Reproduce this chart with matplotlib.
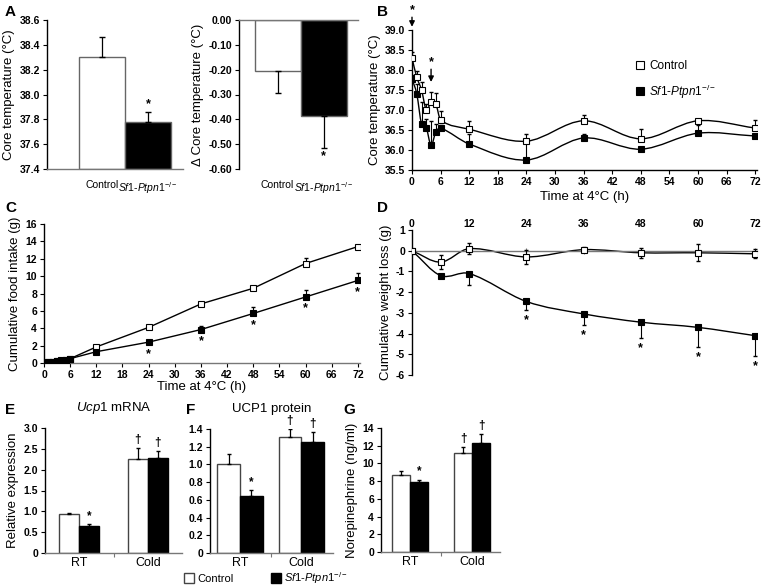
import numpy as np
import matplotlib
matplotlib.use("Agg")
import matplotlib.pyplot as plt
from matplotlib.path import Path
from matplotlib.patches import PathPatch, Patch
from matplotlib.lines import Line2D

plt.rcParams["font.family"] = ["Liberation Sans", "DejaVu Sans"]
plt.rcParams["mathtext.fontset"] = "custom"
plt.rcParams["mathtext.rm"] = "Liberation Sans"
plt.rcParams["mathtext.it"] = "Liberation Sans:italic"
plt.rcParams["axes.unicode_minus"] = False
plt.rcParams["axes.linewidth"] = 1.0

KO = r"$\mathit{Sf1}$-$\mathit{Ptpn1}^{-/-}$"

# ---- data ----
# A: core temperature at RT
a_groups = ["Control", KO]
a_temp = [38.30, 37.78]
a_temp_err = [0.16, 0.08]
a_delta = [-0.205, -0.385]
a_delta_err = [0.09, 0.13]

# B: core temperature during cold exposure
b_time = [0, 1, 2, 3, 4, 5, 6, 12, 24, 36, 48, 60, 72]
b_ctrl = [38.30, 37.82, 37.50, 37.00, 37.20, 37.15, 36.75, 36.52, 36.22, 36.73, 36.28, 36.73, 36.55]
b_ctrl_err = [0.15, 0.15, 0.20, 0.15, 0.25, 0.28, 0.22, 0.20, 0.17, 0.15, 0.25, 0.03, 0.20]
b_ko = [37.78, 37.40, 36.65, 36.55, 36.12, 36.45, 36.55, 36.15, 35.75, 36.30, 36.02, 36.42, 36.35]
b_ko_err = [0.10, 0.25, 0.55, 0.22, 0.60, 0.20, 0.08, 0.25, 0.45, 0.10, 0.03, 0.20, 0.05]
b_sig_time = [0, 4]

# C: cumulative food intake
c_time = [0, 1, 2, 3, 4, 5, 6, 12, 24, 36, 48, 60, 72]
c_ctrl = [0.05, 0.10, 0.15, 0.20, 0.25, 0.40, 0.50, 1.85, 4.10, 6.80, 8.60, 11.45, 13.40]
c_ctrl_err = [0, 0, 0, 0, 0, 0, 0, 0.15, 0.15, 0.15, 0.30, 0.60, 0.20]
c_ko = [0.05, 0.10, 0.15, 0.20, 0.30, 0.40, 0.50, 1.30, 2.40, 3.85, 5.70, 7.60, 9.50]
c_ko_err = [0, 0, 0, 0, 0, 0, 0, 0.20, 0.25, 0.45, 0.80, 0.80, 0.90]
c_sig_time = [24, 36, 48, 60, 72]

# D: cumulative weight loss
d_time = [0, 6, 12, 24, 36, 48, 60, 72]
d_ctrl = [0.0, -0.55, 0.10, -0.30, 0.05, -0.10, -0.10, -0.15]
d_ctrl_err = [0.0, 0.35, 0.25, 0.32, 0.12, 0.25, 0.42, 0.22]
d_ko = [0.0, -1.20, -1.10, -2.45, -3.05, -3.45, -3.70, -4.10]
d_ko_err = [0.0, 0.0, 0.55, 0.40, 0.55, 0.75, 0.95, 1.00]
d_sig_time = [24, 36, 48, 60, 72]

# E-G: BAT / plasma measures, RT vs Cold
conds = ["RT", "Cold"]
e_ctrl = [0.93, 2.26]
e_ctrl_err = [0.03, 0.26]
e_ko = [0.64, 2.29]
e_ko_err = [0.05, 0.16]
f_ctrl = [1.01, 1.31]
f_ctrl_err = [0.11, 0.09]
f_ko = [0.64, 1.25]
f_ko_err = [0.07, 0.12]
g_ctrl = [8.75, 11.15]
g_ctrl_err = [0.35, 0.65]
g_ko = [7.95, 12.30]
g_ko_err = [0.22, 1.05]

W, H = 764, 586
fig = plt.figure(figsize=(W / 100, H / 100), dpi=100)


def rect(x0, y0, x1, y1):
    return [x0 / W, 1 - y1 / H, (x1 - x0) / W, (y1 - y0) / H]


def smooth_path(x, y):
    # Excel-like smoothed line: cubic Hermite through the points
    x = np.asarray(x, float)
    y = np.asarray(y, float)
    n = len(x)
    m = np.zeros(n)
    m[0] = (y[1] - y[0]) / (x[1] - x[0])
    m[-1] = (y[-1] - y[-2]) / (x[-1] - x[-2])
    for i in range(1, n - 1):
        m[i] = (y[i + 1] - y[i - 1]) / (x[i + 1] - x[i - 1])
    verts = [(x[0], y[0])]
    codes = [Path.MOVETO]
    for i in range(n - 1):
        h = x[i + 1] - x[i]
        verts += [(x[i] + h / 3, y[i] + m[i] * h / 3),
                  (x[i + 1] - h / 3, y[i + 1] - m[i + 1] * h / 3),
                  (x[i + 1], y[i + 1])]
        codes += [Path.CURVE4] * 3
    return Path(verts, codes)


def style_axes(ax):
    ax.spines["top"].set_visible(False)
    ax.spines["right"].set_visible(False)
    ax.tick_params(length=3, width=0.8, pad=2)


TICK = dict(fontsize=7.5, fontweight="bold")
LAB = 9.5


def yticks(ax, vals, fmt):
    ax.set_yticks(vals)
    ax.set_yticklabels([fmt(v) for v in vals], **TICK)


def xticks(ax, vals):
    ax.set_xticks(vals)
    ax.set_xticklabels([str(v) for v in vals], **TICK)


# ---- Panel A (left) ----
ax = fig.add_axes(rect(47, 20, 183, 169))
xa = np.arange(len(a_groups))
ax.bar(xa, np.array(a_temp) - 37.4, width=1.0, bottom=37.4, color=["white", "black"],
       edgecolor="#666666", linewidth=1.0, zorder=2)
ax.errorbar(xa, a_temp, yerr=[[0, 0], a_temp_err], fmt="none", ecolor="black",
            elinewidth=0.9, capsize=2, zorder=3)
ax.annotate("*", xy=(xa[1], a_temp[1] + a_temp_err[1]), xytext=(0, 1),
            textcoords="offset points", ha="center", va="bottom", fontsize=9, fontweight="bold")
ax.set_xlim(-1.2, 1.76)
ax.set_ylim(37.4, 38.6)
yticks(ax, np.arange(37.4, 38.61, 0.2), lambda v: f"{v:.1f}")
ax.set_xticks(xa)
ax.set_xticklabels(a_groups, fontsize=7.5)
ax.set_ylabel("Core temperature (°C)", fontsize=LAB, labelpad=3)
style_axes(ax)
ax.spines["bottom"].set_color("#777777")
ax.tick_params(axis="x", length=0, pad=8)

# ---- Panel A (right, delta) ----
ax = fig.add_axes(rect(239, 20, 358, 169))
ax.bar(xa, a_delta, width=1.0, color=["white", "black"], edgecolor="#666666",
       linewidth=1.0, zorder=2)
ax.errorbar(xa, a_delta, yerr=[a_delta_err, [0, 0]], fmt="none", ecolor="black",
            elinewidth=0.9, capsize=2, zorder=3)
ax.annotate("*", xy=(xa[1], a_delta[1] - a_delta_err[1]), xytext=(0, -2),
            textcoords="offset points", ha="center", va="top", fontsize=9, fontweight="bold")
ax.set_xlim(-0.84, 1.75)
ax.set_ylim(-0.6, 0.0)
yticks(ax, np.arange(-0.6, 0.001, 0.1), lambda v: "0.00" if abs(v) < 1e-9 else f"{v:.2f}")
ax.set_xticks(xa)
ax.set_xticklabels(a_groups, fontsize=7.5)
ax.set_ylabel("Δ Core temperature (°C)", fontsize=LAB, labelpad=3)
style_axes(ax)
ax.spines["bottom"].set_visible(False)
ax.spines["top"].set_visible(True)
ax.spines["top"].set_color("#777777")
ax.tick_params(axis="x", length=0, pad=8)

# ---- Panel B ----
ax = fig.add_axes(rect(412, 30, 757, 170))
ax.add_patch(PathPatch(smooth_path(b_time, b_ctrl), fill=False, lw=1.0, color="black", zorder=2))
ax.add_patch(PathPatch(smooth_path(b_time, b_ko), fill=False, lw=1.0, color="black", zorder=2))
ax.errorbar(b_time, b_ctrl, yerr=[np.zeros(len(b_ctrl)), b_ctrl_err], fmt="none",
            ecolor="black", elinewidth=0.8, capsize=1.5, zorder=3)
ax.errorbar(b_time, b_ko, yerr=[np.zeros(len(b_ko)), b_ko_err], fmt="none",
            ecolor="black", elinewidth=0.8, capsize=1.5, zorder=3)
ax.plot(b_time, b_ko, "s", ms=4.5, mfc="black", mec="black", mew=0.8, zorder=4)
ax.plot(b_time, b_ctrl, "s", ms=4.5, mfc="white", mec="black", mew=0.8, zorder=5)
for t, y0, y1 in zip(b_sig_time, [39.08, 37.70], [39.32, 38.02]):
    ax.annotate("", xy=(t, y0), xytext=(t, y1), annotation_clip=False,
                arrowprops=dict(arrowstyle="-|>", color="black", lw=1.0,
                                mutation_scale=8, shrinkA=0, shrinkB=0))
    ax.text(t, y1 + 0.02, "*", ha="center", va="bottom", fontsize=9,
            fontweight="bold", clip_on=False)
ax.set_xlim(0, 72.4)
ax.set_ylim(35.5, 39.0)
xticks(ax, list(range(0, 73, 6)))
yticks(ax, np.arange(35.5, 39.01, 0.5), lambda v: f"{v:.1f}")
ax.set_xlabel("Time at 4°C (h)", fontsize=LAB, labelpad=3)
ax.set_ylabel("Core temperature (°C)", fontsize=LAB, labelpad=3)
style_axes(ax)
h = [Line2D([], [], ls="none", marker="s", ms=6, mfc="white", mec="black", mew=0.8),
     Line2D([], [], ls="none", marker="s", ms=6, mfc="black", mec="black", mew=0.8)]
ax.legend(h, ["Control", KO], loc="upper left", bbox_to_anchor=(0.63, 0.83),
          frameon=False, fontsize=8.5, handlelength=0.8, handletextpad=0.4,
          labelspacing=0.9, borderpad=0)

# ---- Panel C ----
ax = fig.add_axes(rect(44, 224, 360, 363))
ax.errorbar(c_time, c_ctrl, yerr=[np.zeros(len(c_ctrl)), c_ctrl_err], fmt="none",
            ecolor="black", elinewidth=0.8, capsize=1.5, zorder=3)
ax.errorbar(c_time, c_ko, yerr=[np.zeros(len(c_ko)), c_ko_err], fmt="none",
            ecolor="black", elinewidth=0.8, capsize=1.5, zorder=3)
ax.plot(c_time, c_ctrl, "-s", color="black", lw=1.0, ms=4, mfc="white", mec="black",
        mew=0.8, zorder=4)
ax.plot(c_time, c_ko, "-s", color="black", lw=1.0, ms=4, mfc="black", mec="black",
        mew=0.8, zorder=5)
for t in c_sig_time:
    i = c_time.index(t)
    ax.annotate("*", xy=(t, c_ko[i]), xytext=(0, -4), textcoords="offset points",
                ha="center", va="top", fontsize=9, fontweight="bold")
ax.set_xlim(0, 72.5)
ax.set_ylim(0, 16)
xticks(ax, list(range(0, 73, 6)))
yticks(ax, list(range(0, 17, 2)), str)
ax.set_xlabel("Time at 4°C (h)", fontsize=LAB, labelpad=1)
ax.set_ylabel("Cumulative food intake (g)", fontsize=LAB, labelpad=3)
style_axes(ax)
ax.spines["bottom"].set_color("#777777")

# ---- Panel D ----
ax = fig.add_axes(rect(412, 230, 757, 375))
ax.add_patch(PathPatch(smooth_path(d_time, d_ctrl), fill=False, lw=1.0, color="black", zorder=2))
ax.add_patch(PathPatch(smooth_path(d_time, d_ko), fill=False, lw=1.0, color="black", zorder=2))
ax.errorbar(d_time, d_ctrl, yerr=d_ctrl_err, fmt="none", ecolor="black",
            elinewidth=0.8, capsize=1.5, zorder=3)
ax.errorbar(d_time, d_ko, yerr=[d_ko_err, np.zeros(len(d_ko))], fmt="none",
            ecolor="black", elinewidth=0.8, capsize=1.5, zorder=3)
ax.plot(d_time, d_ko, "s", ms=4, mfc="black", mec="black", mew=0.8, zorder=4)
ax.plot(d_time, d_ctrl, "s", ms=4.5, mfc="white", mec="black", mew=0.8, zorder=5)
for t in d_sig_time:
    i = d_time.index(t)
    ax.annotate("*", xy=(t, d_ko[i] - d_ko_err[i]), xytext=(0, -3),
                textcoords="offset points", ha="center", va="top", fontsize=9,
                fontweight="bold")
ax.set_xlim(0, 72.4)
ax.set_ylim(-6, 1)
yticks(ax, list(range(-6, 2)), str)
ax.set_xticks(np.arange(0, 73, 12))
ax.set_xticklabels([])
ax.set_ylabel("Cumulative weight loss (g)", fontsize=LAB, labelpad=3)
style_axes(ax)
ax.spines["bottom"].set_position(("data", 0))
ax.spines["bottom"].set_color("#777777")
ax.tick_params(axis="x", direction="inout", length=4, color="#777777")
top = ax.secondary_xaxis("top")
top.set_xticks(np.arange(0, 73, 12))
top.set_xticklabels([str(v) for v in range(0, 73, 12)], **TICK)
top.tick_params(length=0, pad=1)
top.spines["top"].set_visible(False)


# ---- Panels E, F, G ----
def grouped(ax, ctrl, ctrl_err, ko, ko_err, width):
    x = np.arange(len(conds))
    ax.bar(x - width / 2, ctrl, width, color="white", edgecolor="#444444", lw=1.0, zorder=2)
    ax.bar(x + width / 2, ko, width, color="black", edgecolor="black", lw=1.0, zorder=2)
    ax.errorbar(x - width / 2, ctrl, yerr=[[0, 0], ctrl_err], fmt="none", ecolor="black",
                elinewidth=0.9, capsize=1.5, zorder=3)
    ax.errorbar(x + width / 2, ko, yerr=[[0, 0], ko_err], fmt="none", ecolor="black",
                elinewidth=0.9, capsize=1.5, zorder=3)
    marks = [(x[0] + width / 2, ko[0] + ko_err[0], "*"),
             (x[1] - width / 2, ctrl[1] + ctrl_err[1], "†"),
             (x[1] + width / 2, ko[1] + ko_err[1], "†")]
    for (xi, yi, s) in marks:
        ax.annotate(s, xy=(xi, yi), xytext=(0, 1.5), textcoords="offset points",
                    ha="center", va="bottom", fontsize=8.5, fontweight="bold")
    ax.set_xticks([0.5])
    ax.set_xticklabels([""])
    ax.set_xticks([0, 1], minor=True)
    ax.set_xticklabels(conds, minor=True, fontsize=9)
    style_axes(ax)
    ax.tick_params(axis="x", which="minor", length=0, pad=3)
    ax.tick_params(axis="x", which="major", length=3, color="#777777")
    ax.spines["bottom"].set_color("#777777")


# E
ax = fig.add_axes(rect(45, 428, 182, 553))
grouped(ax, e_ctrl, e_ctrl_err, e_ko, e_ko_err, 0.29)
ax.set_xlim(-0.5, 1.5)
ax.set_ylim(0, 3.0)
yticks(ax, np.arange(0, 3.01, 0.5), lambda v: "0" if v == 0 else f"{v:.1f}")
ax.set_ylabel("Relative expression", fontsize=LAB, labelpad=3)
ax.set_title(r"$\mathit{Ucp1}$ mRNA", fontsize=9.5, pad=12)

# F
ax = fig.add_axes(rect(210, 429, 333, 553))
grouped(ax, f_ctrl, f_ctrl_err, f_ko, f_ko_err, 0.37)
ax.set_xlim(-0.49, 1.52)
ax.set_ylim(0, 1.4)
yticks(ax, np.arange(0, 1.41, 0.2), lambda v: "0" if v == 0 else f"{v:.1f}")
ax.set_title("UCP1 protein", fontsize=9.5, pad=12)

# G
ax = fig.add_axes(rect(381, 428, 500, 552))
grouped(ax, g_ctrl, g_ctrl_err, g_ko, g_ko_err, 0.29)
ax.set_xlim(-0.47, 1.45)
ax.set_ylim(0, 14)
yticks(ax, list(range(0, 15, 2)), str)
ax.set_ylabel("Norepinephrine (ng/ml)", fontsize=LAB, labelpad=3)

# shared legend for E-G
fig.legend([Patch(facecolor="white", edgecolor="#444444"), Patch(facecolor="black", edgecolor="black")],
           ["Control", KO], loc="center left", bbox_to_anchor=(178 / W, 1 - 578 / H),
           ncol=2, frameon=False, fontsize=8, handlelength=0.9, handleheight=0.9,
           handletextpad=0.3, columnspacing=3.4, borderpad=0)

# panel letters
for s, px, py in [("A", 5, 12), ("B", 377, 12), ("C", 5, 208), ("D", 377, 208),
                  ("E", 5, 410), ("F", 186, 410), ("G", 343, 410)]:
    fig.text(px / W, 1 - py / H, s, fontsize=11, fontweight="bold", va="center", ha="left")

fig.savefig("out.png", dpi=100)
